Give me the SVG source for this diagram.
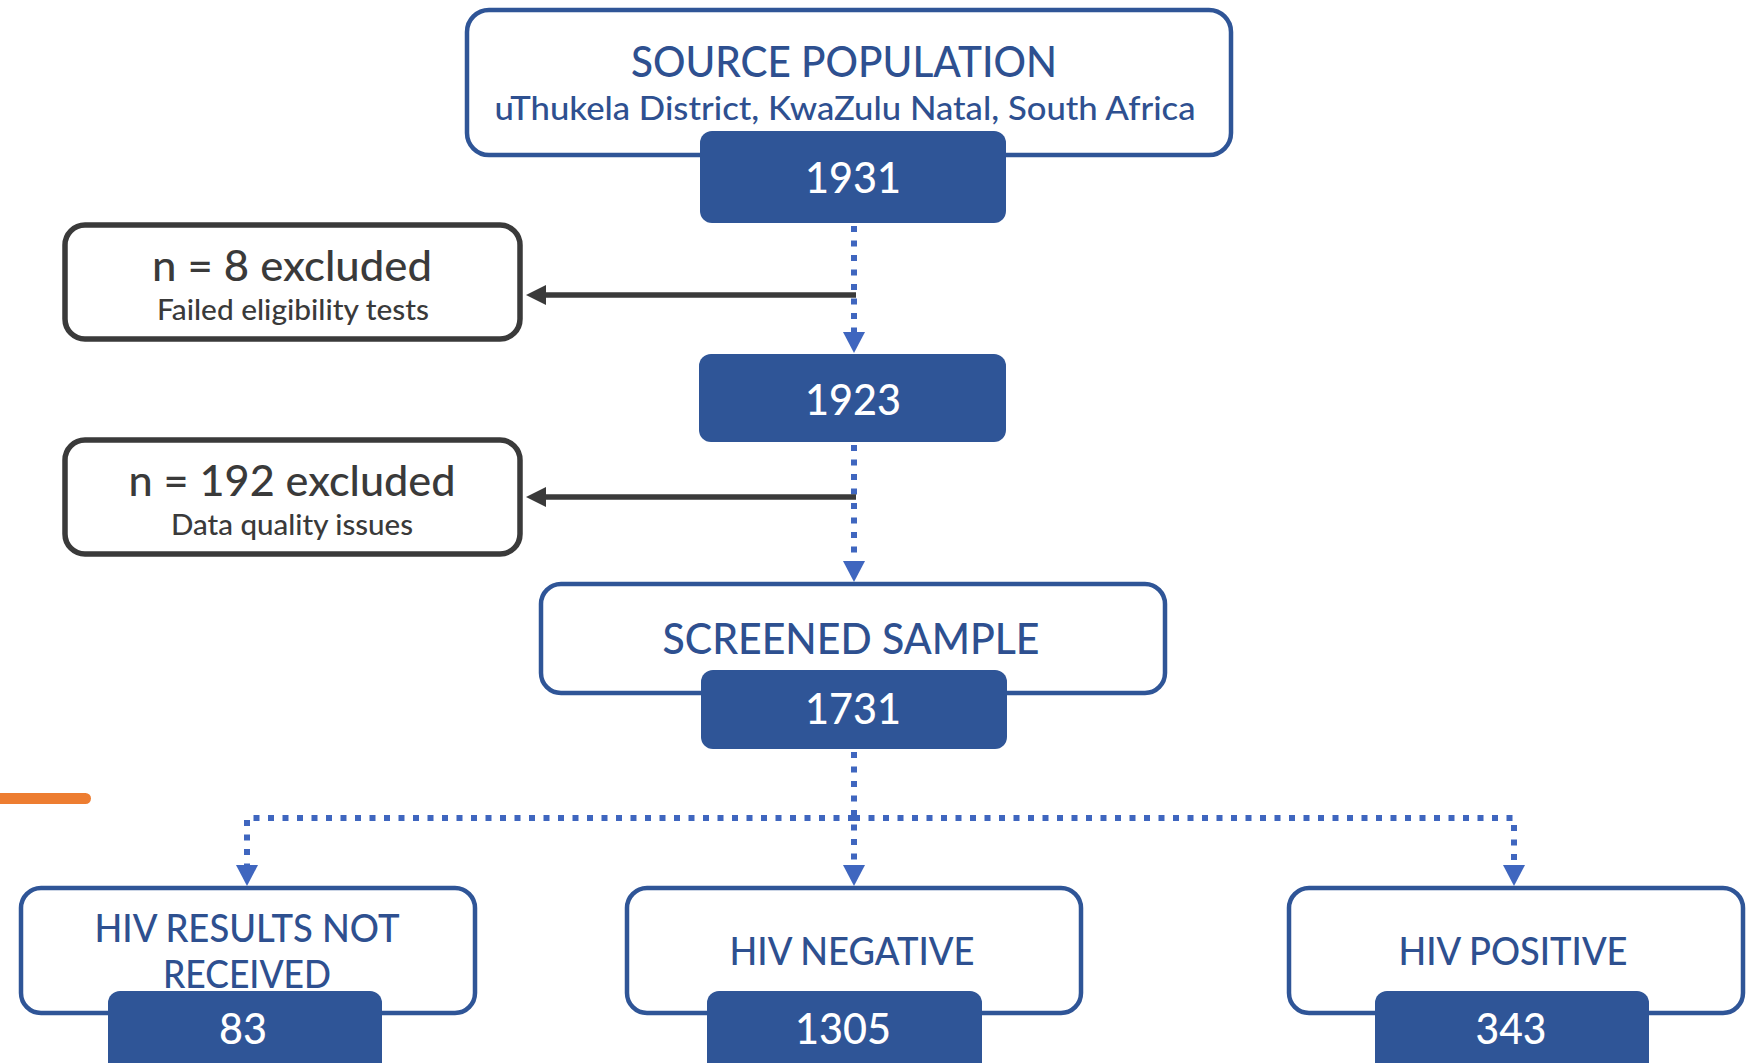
<svg xmlns="http://www.w3.org/2000/svg" width="1757" height="1063" viewBox="0 0 1757 1063">
<style>
  text { font-family: Lato, "Open Sans", "Liberation Sans", sans-serif; text-anchor: middle; font-weight: 500; }
  .wbox { fill: #ffffff; stroke: #2F5597; stroke-width: 4.5; }
  .gbox { fill: #ffffff; stroke: #3A3A3A; stroke-width: 5.5; }
  .nbox { fill: #2F5597; }
  .title { fill: #2E5090; font-size: 43px; }
  .sub { fill: #2E5090; font-size: 33px; }
  .btitle { fill: #2E5090; font-size: 38px; }
  .num { fill: #ffffff; font-size: 42px; }
  .gmain { fill: #3A3A3A; font-size: 43px; }
  .gsub { fill: #3A3A3A; font-size: 28px; }
  .dot { fill: none; stroke: #3F66BF; stroke-width: 6; stroke-dasharray: 6 8.5; }
  .garr { fill: none; stroke: #3A3A3A; stroke-width: 5.5; }
</style>
<defs>
  <marker id="arrBlue" viewBox="0 0 21 22" markerWidth="21" markerHeight="22" refX="9" refY="11" markerUnits="userSpaceOnUse" orient="auto">
    <path d="M0,0 L21,11 L0,22 z" fill="#3F66BF"/>
  </marker>
  <marker id="arrGray" viewBox="0 0 20 20" markerWidth="20" markerHeight="20" refX="10" refY="10" markerUnits="userSpaceOnUse" orient="auto">
    <path d="M0,0 L20,10 L0,20 z" fill="#3A3A3A"/>
  </marker>
</defs>
<rect width="1757" height="1063" fill="#ffffff"/>
<rect x="-12" y="793" width="103" height="11" rx="5.5" fill="#ED7D31"/>

<g id="connectors">
  <line class="dot" x1="854" y1="226" x2="854" y2="341" marker-end="url(#arrBlue)"/>
  <line class="dot" x1="854" y1="445" x2="854" y2="570" marker-end="url(#arrBlue)"/>
  <line class="dot" x1="854" y1="752" x2="854" y2="874" marker-end="url(#arrBlue)"/>
  <path class="dot" d="M854,818 H247 V874" marker-end="url(#arrBlue)"/>
  <path class="dot" d="M854,818 H1514 V874" marker-end="url(#arrBlue)"/>
  <line class="garr" x1="856" y1="295" x2="536" y2="295" marker-end="url(#arrGray)"/>
  <line class="garr" x1="856" y1="497" x2="536" y2="497" marker-end="url(#arrGray)"/>
</g>

<g id="source">
  <rect class="wbox" x="467" y="10" width="764" height="145" rx="22"/>
  <text class="title" x="844" y="77" textLength="426" lengthAdjust="spacingAndGlyphs">SOURCE POPULATION</text>
  <text class="sub" x="845" y="120" textLength="701" lengthAdjust="spacingAndGlyphs">uThukela District, KwaZulu Natal, South Africa</text>
  <rect class="nbox" x="700" y="131" width="306" height="92" rx="12"/>
  <text class="num" x="853" y="193" textLength="96" lengthAdjust="spacingAndGlyphs">1931</text>
</g>

<g id="excluded1">
  <rect class="gbox" x="65" y="225" width="455" height="114" rx="20"/>
  <text class="gmain" x="292" y="281" textLength="280" lengthAdjust="spacingAndGlyphs">n = 8 excluded</text>
  <text class="gsub" x="293" y="320" textLength="272" lengthAdjust="spacingAndGlyphs">Failed eligibility tests</text>
</g>

<g id="eligible">
  <rect class="nbox" x="699" y="354" width="307" height="88" rx="12"/>
  <text class="num" x="853" y="415" textLength="96" lengthAdjust="spacingAndGlyphs">1923</text>
</g>

<g id="excluded2">
  <rect class="gbox" x="65" y="440" width="455" height="114" rx="20"/>
  <text class="gmain" x="292" y="496" textLength="327" lengthAdjust="spacingAndGlyphs">n = 192 excluded</text>
  <text class="gsub" x="292" y="535" textLength="242" lengthAdjust="spacingAndGlyphs">Data quality issues</text>
</g>

<g id="screened">
  <rect class="wbox" x="541" y="584" width="624" height="109" rx="20"/>
  <text class="title" x="851" y="654" textLength="377" lengthAdjust="spacingAndGlyphs">SCREENED SAMPLE</text>
  <rect class="nbox" x="701" y="670" width="306" height="79" rx="12"/>
  <text class="num" x="853" y="724" textLength="96" lengthAdjust="spacingAndGlyphs">1731</text>
</g>

<g id="notreceived">
  <rect class="wbox" x="21" y="888" width="454" height="125" rx="20"/>
  <text class="btitle" x="247" y="942" textLength="305" lengthAdjust="spacingAndGlyphs">HIV RESULTS NOT</text>
  <text class="btitle" x="247" y="988" textLength="168" lengthAdjust="spacingAndGlyphs">RECEIVED</text>
  <rect class="nbox" x="108" y="991" width="274" height="100" rx="12"/>
  <text class="num" x="243" y="1044" textLength="48" lengthAdjust="spacingAndGlyphs">83</text>
</g>

<g id="negative">
  <rect class="wbox" x="627" y="888" width="454" height="125" rx="20"/>
  <text class="btitle" x="852" y="965" textLength="245" lengthAdjust="spacingAndGlyphs">HIV NEGATIVE</text>
  <rect class="nbox" x="707" y="991" width="275" height="100" rx="12"/>
  <text class="num" x="843" y="1044" textLength="96" lengthAdjust="spacingAndGlyphs">1305</text>
</g>

<g id="positive">
  <rect class="wbox" x="1289" y="888" width="454" height="125" rx="20"/>
  <text class="btitle" x="1513" y="965" textLength="229" lengthAdjust="spacingAndGlyphs">HIV POSITIVE</text>
  <rect class="nbox" x="1375" y="991" width="274" height="100" rx="12"/>
  <text class="num" x="1511" y="1044" textLength="71" lengthAdjust="spacingAndGlyphs">343</text>
</g>
</svg>
